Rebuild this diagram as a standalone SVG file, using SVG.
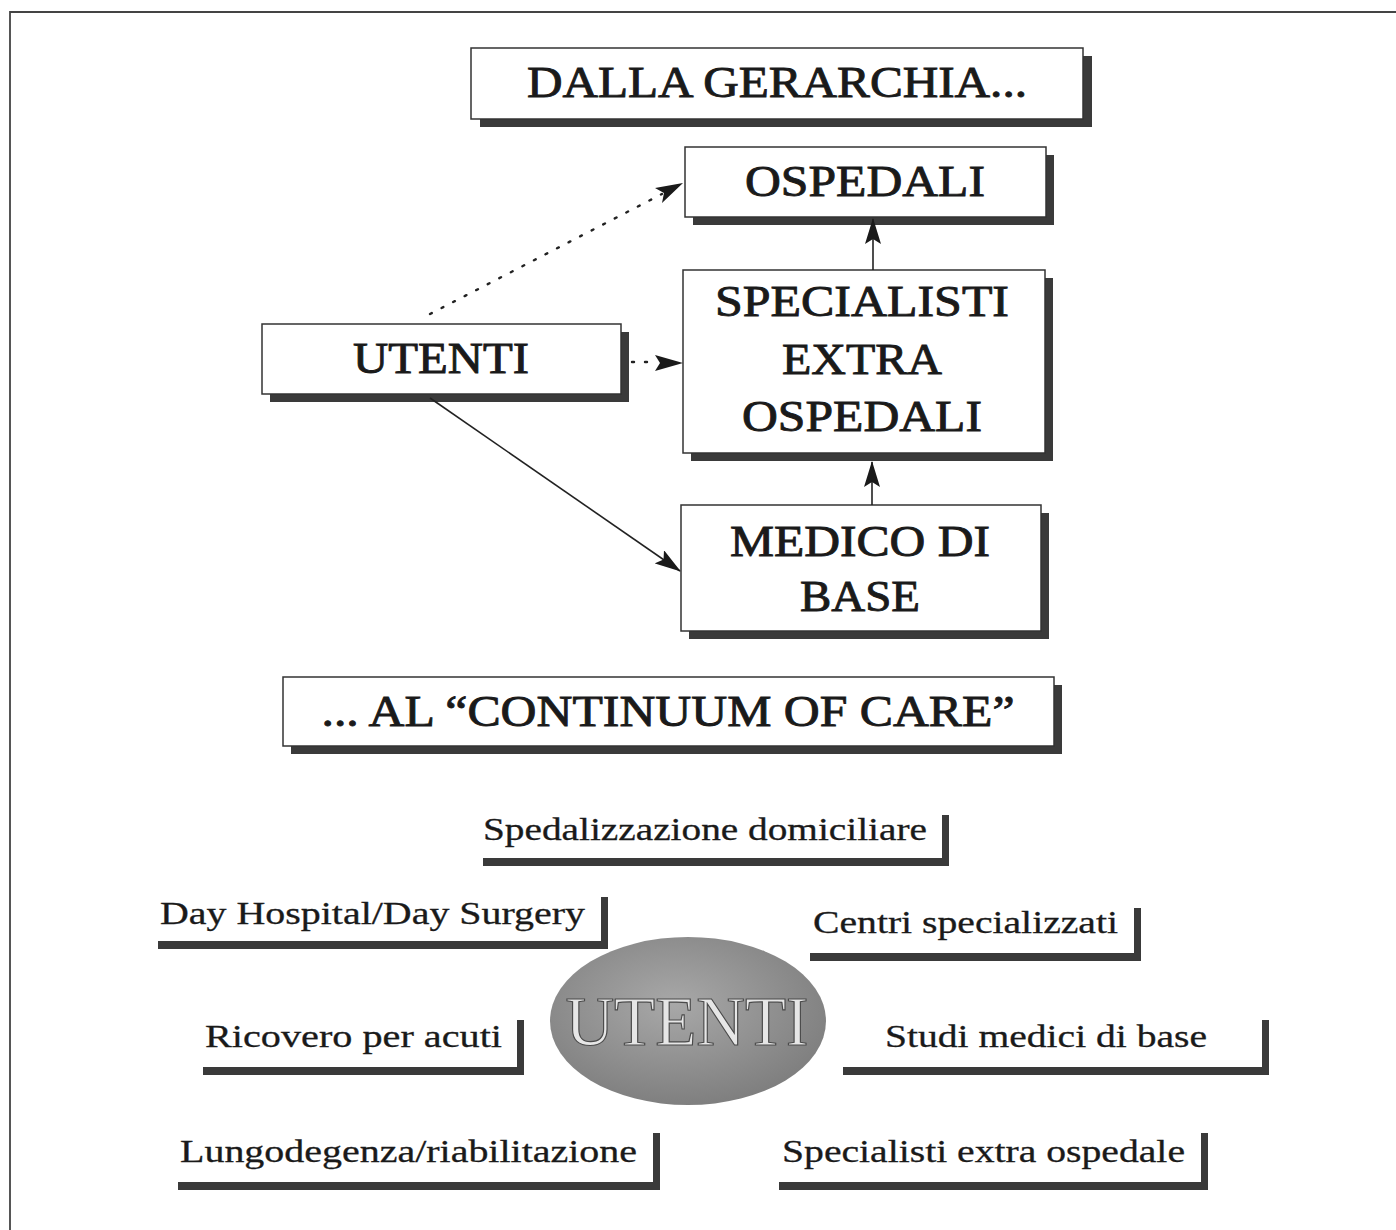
<svg xmlns="http://www.w3.org/2000/svg" width="1396" height="1230" viewBox="0 0 1396 1230">
<defs>
<style>
.box{fill:#ffffff;stroke:#333;stroke-width:1.5}
.sh{fill:#3a3a3a}
.t{font-family:"Liberation Serif","Times New Roman",serif;fill:#1a1a1a;text-anchor:middle}
.big{font-size:44px;stroke:#1a1a1a;stroke-width:0.9}
.lab{font-family:"Liberation Serif","Times New Roman",serif;fill:#1a1a1a;font-size:31px;stroke:#1a1a1a;stroke-width:0.3}
.conn{stroke:#222;stroke-width:1.6;fill:none}
.dot{stroke:#222;stroke-width:2.4;fill:none;stroke-dasharray:2 11;stroke-linecap:round}
</style>
<marker id="ahb" viewBox="0 0 26 16" refX="25" refY="8" markerWidth="26" markerHeight="16" markerUnits="userSpaceOnUse" orient="auto">
<path d="M0,0 L26,8 L0,16 L5,8 Z" fill="#1a1a1a"/>
</marker>
<radialGradient id="eg" cx="0.45" cy="0.4" r="0.65">
<stop offset="0" stop-color="#a8a8a8"/>
<stop offset="1" stop-color="#7c7c7c"/>
</radialGradient>
</defs>
<rect width="1396" height="1230" fill="#ffffff"/>
<path d="M10,1230 L10,12 L1396,12" fill="none" stroke="#444" stroke-width="1.8"/>

<g id="dalla">
<rect class="sh" x="480" y="56" width="612" height="71"/>
<rect class="box" x="471" y="48" width="612" height="71"/>
<text class="t big" x="777" y="97" textLength="500" lengthAdjust="spacingAndGlyphs">DALLA GERARCHIA...</text>
</g>
<g id="ospedali">
<rect class="sh" x="693" y="155" width="361" height="70"/>
<rect class="box" x="685" y="147" width="361" height="70"/>
<text class="t big" x="865" y="196" textLength="240" lengthAdjust="spacingAndGlyphs">OSPEDALI</text>
</g>
<g id="specialisti">
<rect class="sh" x="691" y="278" width="362" height="183"/>
<rect class="box" x="683" y="270" width="362" height="183"/>
<text class="t big" x="862" y="316" textLength="294" lengthAdjust="spacingAndGlyphs">SPECIALISTI</text>
<text class="t big" x="862" y="374" textLength="160" lengthAdjust="spacingAndGlyphs">EXTRA</text>
<text class="t big" x="862" y="431" textLength="240" lengthAdjust="spacingAndGlyphs">OSPEDALI</text>
</g>
<g id="utenti">
<rect class="sh" x="270" y="332" width="359" height="70"/>
<rect class="box" x="262" y="324" width="359" height="70"/>
<text class="t big" x="441" y="373" textLength="176" lengthAdjust="spacingAndGlyphs">UTENTI</text>
</g>
<g id="medico">
<rect class="sh" x="689" y="513" width="360" height="126"/>
<rect class="box" x="681" y="505" width="360" height="126"/>
<text class="t big" x="860" y="556" textLength="260" lengthAdjust="spacingAndGlyphs">MEDICO DI</text>
<text class="t big" x="860" y="611" textLength="120" lengthAdjust="spacingAndGlyphs">BASE</text>
</g>
<g id="continuum">
<rect class="sh" x="291" y="685" width="771" height="69"/>
<rect class="box" x="283" y="677" width="771" height="69"/>
<text class="t big" x="668" y="726" textLength="693" lengthAdjust="spacingAndGlyphs">... AL “CONTINUUM OF CARE”</text>
</g>

<g id="connectors">
<line class="dot" x1="430" y1="314" x2="662" y2="194"/>
<path d="M683,183 L655,188 L664,193 L662,203 Z" fill="#1a1a1a"/>
<line class="dot" x1="632" y1="362" x2="648" y2="362"/>
<path d="M683,363 L655,355 L660,363 L655,371 Z" fill="#1a1a1a"/>
<line class="conn" x1="430" y1="398" x2="680" y2="571" marker-end="url(#ahb)"/>
<line class="conn" x1="872" y1="505" x2="872" y2="462" marker-end="url(#ahb)"/>
<line class="conn" x1="873" y1="270" x2="873" y2="219" marker-end="url(#ahb)"/>
</g>

<g id="spedalizzazione">
<path class="sh" d="M942,815 L949,815 L949,866 L483,866 L483,858 L942,858 Z"/>
<text class="lab" x="483" y="840" textLength="444" lengthAdjust="spacingAndGlyphs">Spedalizzazione domiciliare</text>
</g>
<g id="dayhospital">
<path class="sh" d="M601,897 L608,897 L608,949 L158,949 L158,941 L601,941 Z"/>
<text class="lab" x="160" y="924" textLength="425" lengthAdjust="spacingAndGlyphs">Day Hospital/Day Surgery</text>
</g>
<g id="centri">
<path class="sh" d="M1134,908 L1141,908 L1141,961 L810,961 L810,953 L1134,953 Z"/>
<text class="lab" x="813" y="933" textLength="305" lengthAdjust="spacingAndGlyphs">Centri specializzati</text>
</g>
<g id="ricovero">
<path class="sh" d="M517,1020 L524,1020 L524,1075 L203,1075 L203,1067 L517,1067 Z"/>
<text class="lab" x="205" y="1047" textLength="297" lengthAdjust="spacingAndGlyphs">Ricovero per acuti</text>
</g>
<g id="studi">
<path class="sh" d="M1262,1020 L1269,1020 L1269,1075 L843,1075 L843,1067 L1262,1067 Z"/>
<text class="lab" x="885" y="1047" textLength="322" lengthAdjust="spacingAndGlyphs">Studi medici di base</text>
</g>
<g id="lungodegenza">
<path class="sh" d="M653,1133 L660,1133 L660,1190 L178,1190 L178,1182 L653,1182 Z"/>
<text class="lab" x="180" y="1162" textLength="457" lengthAdjust="spacingAndGlyphs">Lungodegenza/riabilitazione</text>
</g>
<g id="specialisti-extra">
<path class="sh" d="M1201,1133 L1208,1133 L1208,1190 L779,1190 L779,1182 L1201,1182 Z"/>
<text class="lab" x="782" y="1162" textLength="403" lengthAdjust="spacingAndGlyphs">Specialisti extra ospedale</text>
</g>

<g id="utenti-ellipse">
<ellipse cx="688" cy="1021" rx="138" ry="84" fill="url(#eg)"/>
<text x="687" y="1045" font-family="'Liberation Serif','Times New Roman',serif" font-size="70" text-anchor="middle" fill="#e6e6e6" stroke="#4a4a4a" stroke-width="1.2" textLength="243" lengthAdjust="spacingAndGlyphs">UTENTI</text>
</g>
</svg>
